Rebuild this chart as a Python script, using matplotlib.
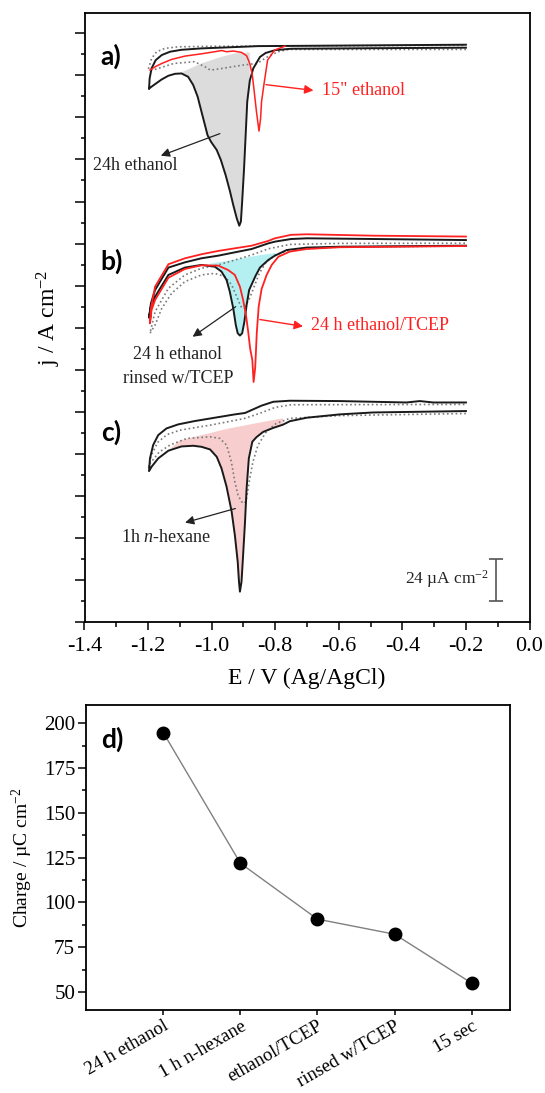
import numpy as np
import matplotlib.pyplot as plt
from matplotlib.ticker import MultipleLocator, NullFormatter

plt.rcParams['font.family'] = ['Liberation Serif', 'DejaVu Serif']
plt.rcParams['mathtext.fontset'] = 'custom'
plt.rcParams['mathtext.rm'] = 'Liberation Serif'
plt.rcParams['mathtext.it'] = 'Liberation Serif:italic'
plt.rcParams['axes.unicode_minus'] = False

RED = '#ff2020'
DOT = '#7a7a7a'

# ---- CV traces, E in V, j in uA cm-2 (stacked with offsets) ----
# panel a : 24h ethanol (black), 15" ethanol (red), bare (dotted)
a_cat_E = [-0.20, -0.50, -0.75, -0.80, -0.83, -0.848, -0.869, -0.880, -0.888, -0.893, -0.898, -0.904,
           -0.908, -0.913, -0.921, -0.932, -0.942, -0.956, -0.971, -0.984, -1.002, -1.013, -1.021,
           -1.032, -1.044, -1.058, -1.074, -1.095, -1.115, -1.136, -1.157, -1.178, -1.194, -1.197]
a_cat_j = [327.8, 327.5, 327.2, 326.4, 324.8, 322.5, 316.0, 309.0, 297.0, 277.9, 258.9, 239.9,
           228.5, 226.2, 230.4, 238.0, 245.6, 255.1, 263.7, 269.4, 274.1, 277.9, 283.6,
           291.3, 299.8, 306.5, 311.2, 313.1, 312.9, 311.8, 309.7, 307.0, 304.9, 304.2]
a_ano_E = [-1.197, -1.195, -1.189, -1.176, -1.157, -1.131, -1.095, -1.032, -0.948, -0.853, -0.60, -0.20]
a_ano_j = [304.2, 310.3, 316.0, 320.7, 323.6, 325.5, 326.6, 327.4, 328.0, 328.7, 329.0, 329.5]
a_base_E = [-1.095, -1.032, -0.969, -0.927, -0.880]
a_base_j = [313.7, 318.8, 322.6, 324.5, 325.1]
a_red_E = [-1.194, -1.178, -1.157, -1.126, -1.084, -1.032, -0.990, -0.969, -0.953, -0.932, -0.906, -0.890,
           -0.880, -0.872, -0.866, -0.859, -0.851, -0.846, -0.843, -0.835, -0.824, -0.802, -0.769]
a_red_j = [315.0, 316.9, 318.8, 321.1, 323.0, 324.3, 325.5, 326.2, 325.5, 325.9, 325.1, 323.2,
           318.8, 312.2, 302.7, 291.3, 280.2, 287.4, 297.0, 307.4, 320.7, 326.4, 328.7]
a_dot_E = [-0.20, -0.758, -0.791, -0.824, -0.857, -0.901, -0.966, -1.004, -1.021, -1.054, -1.119, -1.185,
           -1.199, -1.189, -1.173, -1.147, -1.105, -1.00, -0.60, -0.20]
a_dot_j = [326.8, 326.8, 325.5, 322.6, 318.8, 317.9, 316.0, 315.0, 316.9, 319.8, 318.8, 315.0,
           315.5, 321.7, 325.5, 327.4, 328.3, 328.6, 328.9, 329.2]

# panel b : 24 h ethanol/TCEP (red), 24 h ethanol rinsed w/TCEP (black), bare (dotted)
b_red_ano_E = [-1.194, -1.191, -1.178, -1.136, -1.084, -1.032, -0.979, -0.927, -0.874, -0.822, -0.801,
               -0.75, -0.70, -0.49, -0.20]
b_red_ano_j = [170.5, 179.0, 191.4, 204.2, 207.6, 209.9, 211.8, 213.3, 214.8, 217.5, 219.0,
               221.0, 221.3, 220.5, 220.0]
b_red_cat_E = [-0.20, -0.597, -0.701, -0.754, -0.790, -0.811, -0.827, -0.843, -0.852, -0.858, -0.863,
               -0.868, -0.872, -0.879, -0.885, -0.892, -0.901, -0.911, -0.927, -0.948, -0.979, -1.032,
               -1.084, -1.136, -1.178, -1.189, -1.194]
b_red_cat_j = [214.6, 213.9, 212.9, 211.4, 208.5, 203.8, 198.1, 190.0, 180.0, 165.0, 145.0,
               137.0, 149.6, 156.2, 165.7, 175.2, 183.8, 191.4, 198.1, 200.9, 203.4, 203.6,
               201.5, 196.5, 183.8, 178.1, 170.5]
b_blk_ano_E = [-1.197, -1.191, -1.178, -1.136, -1.084, -1.032, -0.979, -0.927, -0.874, -0.822, -0.801,
               -0.75, -0.70, -0.49, -0.20]
b_blk_ano_j = [173.7, 181.9, 189.5, 202.3, 205.3, 207.6, 209.1, 211.0, 212.9, 216.1, 217.1,
               218.6, 219.0, 218.6, 218.0]
b_blk_cat_E = [-0.20, -0.597, -0.701, -0.764, -0.801, -0.822, -0.848, -0.862, -0.882, -0.890, -0.897,
               -0.904, -0.911, -0.918, -0.924, -0.932, -0.943, -0.953, -0.969, -0.990, -1.032, -1.084,
               -1.136, -1.178, -1.191, -1.197]
b_blk_cat_j = [214.8, 214.2, 213.7, 212.3, 209.1, 206.6, 202.3, 197.5, 189.5, 180.9, 171.4,
               164.8, 163.5, 164.8, 169.5, 179.0, 188.6, 195.2, 200.0, 202.8, 203.8, 202.3,
               198.1, 185.7, 180.0, 173.7]
b_base_E = [-1.01, -0.93, -0.85, -0.80]
b_base_j = [204.3, 206.8, 209.3, 210.6]
b_dot_E = [-0.20, -0.60, -0.75, -0.80, -0.83, -0.85, -0.865, -0.88, -0.895, -0.908, -0.921, -0.937,
           -0.958, -0.990, -1.032, -1.084, -1.126, -1.157, -1.178, -1.194,
           -1.178, -1.136, -1.084, -1.032, -0.979, -0.927, -0.874, -0.822, -0.754, -0.60, -0.20]
b_dot_j = [214.6, 214.0, 212.5, 209.5, 205.0, 199.0, 192.0, 185.0, 180.0, 180.0, 185.7, 192.4,
           197.1, 199.0, 198.1, 194.3, 187.6, 179.0, 169.5, 164.8,
           177.1, 190.5, 198.1, 201.9, 203.8, 206.6, 209.5, 213.0, 215.5, 216.1, 216.2]

# panel c : 1h n-hexane (black), bare (dotted)
c_ano_E = [-1.197, -1.194, -1.184, -1.168, -1.142, -1.105, -1.053, -0.990, -0.927, -0.895, -0.874,
           -0.843, -0.806, -0.754, -0.597, -0.387, -0.345, -0.303, -0.20]
c_ano_j = [86.1, 93.4, 101.0, 106.7, 110.5, 112.8, 114.7, 116.6, 118.5, 119.3, 121.0,
           123.5, 125.7, 126.3, 126.1, 125.3, 126.1, 125.3, 125.3]
c_cat_E = [-0.20, -0.492, -0.597, -0.701, -0.754, -0.776, -0.806, -0.838, -0.859, -0.872, -0.883, -0.890,
           -0.895, -0.901, -0.906, -0.911, -0.914, -0.918, -0.927, -0.937, -0.953, -0.969, -0.984,
           -1.005, -1.032, -1.058, -1.095, -1.136, -1.168, -1.189, -1.197]
c_cat_j = [120.4, 119.6, 118.5, 116.6, 114.6, 112.6, 110.8, 108.5, 105.5, 102.9, 93.4, 76.2,
           57.2, 38.2, 23.0, 17.3, 23.0, 34.4, 49.6, 62.9, 77.2, 87.7, 94.3,
           98.5, 100.0, 100.6, 100.2, 97.8, 93.4, 88.6, 86.1]
c_base_E = [-1.13, -1.10, -0.95, -0.80, -0.776]
c_base_j = [99.0, 103.6, 110.3, 115.5, 116.2]
c_dot_E = [-0.20, -0.60, -0.755, -0.797, -0.828, -0.854, -0.870, -0.880, -0.891, -0.896, -0.906, -0.917,
           -0.927, -0.938, -0.953, -0.974, -1.005, -1.078, -1.131, -1.165, -1.194, -1.199,
           -1.19, -1.17, -1.14, -1.10, -1.00, -0.90, -0.85, -0.80, -0.75, -0.20]
c_dot_j = [119.0, 117.8, 116.2, 113.3, 108.6, 101.0, 91.5, 82.0, 69.6, 67.7, 68.6, 72.4,
           80.0, 91.5, 101.0, 104.8, 105.7, 104.8, 101.0, 97.0, 90.5, 87.5,
           95.0, 102.5, 107.0, 109.5, 112.5, 116.0, 119.0, 122.5, 124.0, 124.2]

# ---- panel d : integrated charge ----
samples = ['24 h ethanol', '1 h n-hexane', 'ethanol/TCEP', 'rinsed w/TCEP', '15 sec']
charge = [194.8, 121.9, 90.7, 82.3, 55.0]

W, H = 545, 1093
fig = plt.figure(figsize=(W / 100, H / 100), dpi=100)
ax = fig.add_axes([84.5 / W, 1 - 622 / H, 445 / W, 609 / H])
axd = fig.add_axes([86.2 / W, 1 - 1010 / H, 424 / W, 305 / H])


def region(E, j, lo, hi):
    E = np.asarray(E)
    j = np.asarray(j)
    m = (E >= lo) & (E <= hi)
    return E[m], j[m]


def shade(cat_E, cat_j, base_E, base_j, color):
    e1, j1 = region(cat_E, cat_j, min(base_E), max(base_E))
    px = np.concatenate([e1, base_E])
    py = np.concatenate([j1, base_j])
    ax.fill(px, py, color=color, lw=0, zorder=1)


shade(a_cat_E, a_cat_j, a_base_E, a_base_j, '#dcdcdc')
shade(b_blk_cat_E, b_blk_cat_j, b_base_E, b_base_j, '#b4f0f2')
shade(c_cat_E, c_cat_j, c_base_E, c_base_j, '#f8cdcd')

dots = dict(color=DOT, lw=1.2, ls=(0, (1, 1.6)), zorder=2)
ax.plot(a_dot_E, a_dot_j, **dots)
ax.plot(b_dot_E, b_dot_j, **dots)
ax.plot(c_dot_E, c_dot_j, **dots)

blk = dict(color='#1a1a1a', lw=1.4, zorder=3)
ax.plot(a_cat_E + a_ano_E, a_cat_j + a_ano_j, **blk)
ax.plot(b_blk_cat_E + b_blk_ano_E, b_blk_cat_j + b_blk_ano_j, **blk)
ax.plot(c_cat_E + c_ano_E, c_cat_j + c_ano_j, **blk)

ax.plot(a_red_E, a_red_j, color=RED, lw=1.1, zorder=4)
ax.plot(b_red_cat_E + b_red_ano_E, b_red_cat_j + b_red_ano_j, color=RED, lw=1.3, zorder=4)

ax.set_xlim(-1.4, 0.0)
ax.set_ylim(0, 347.6)
ax.xaxis.set_major_locator(MultipleLocator(0.2))
ax.xaxis.set_minor_locator(MultipleLocator(0.1))
ax.yaxis.set_major_locator(MultipleLocator(24))
ax.yaxis.set_minor_locator(MultipleLocator(12))
ax.yaxis.set_major_formatter(NullFormatter())
ax.xaxis.set_major_formatter(plt.FuncFormatter(lambda v, p: '%.1f' % v))
ax.tick_params(axis='x', which='major', direction='out', length=6, width=1.1, labelsize=16, pad=5)
ax.tick_params(axis='x', which='minor', direction='out', length=3.6, width=1.1)
ax.tick_params(axis='y', which='major', direction='out', length=7, width=1.1)
ax.tick_params(axis='y', which='minor', direction='out', length=3.2, width=1.1)
for s in ax.spines.values():
    s.set_linewidth(1.3)

ax.set_xlabel('E / V (Ag/AgCl)', fontsize=17)
ax.xaxis.set_label_coords(0.5, -0.076)
ax.set_ylabel('j / A cm$^{-2}$', fontsize=17)
ax.yaxis.set_label_coords(-0.049, 0.5)

lab = dict(family=['Lato', 'DejaVu Sans'], fontweight='bold', fontsize=19, va='center', ha='left')
ax.text(-1.349, 322.6, 'a)', **lab)
ax.text(-1.349, 206.1, 'b)', **lab)
ax.text(-1.349, 108.1, 'c)', **lab)

arr_k = dict(arrowstyle='-|>', color='#222222', lw=0.9, mutation_scale=13)
arr_r = dict(arrowstyle='-|>', color=RED, lw=1.0, mutation_scale=13)
ax.annotate('', xy=(-0.671, 303.2), xytext=(-0.838, 306.9), arrowprops=arr_r)
ax.text(-0.652, 303.2, '15" ethanol', color=RED, fontsize=13, va='center', ha='left')
ax.annotate('', xy=(-1.168, 265.6), xytext=(-0.966, 279.3), arrowprops=arr_k)
ax.text(-1.240, 260.8, '24h ethanol', color='#222222', fontsize=13, va='center', ha='center')

ax.annotate('', xy=(-0.704, 168.5), xytext=(-0.857, 172.9), arrowprops=arr_r)
ax.text(-0.688, 169.5, '24 h ethanol/TCEP', color=RED, fontsize=13, va='center', ha='left')
ax.annotate('', xy=(-1.067, 161.9), xytext=(-0.917, 180.9), arrowprops=arr_k)
ax.text(-1.106, 145.8, '24 h ethanol\nrinsed w/TCEP', color='#222222', fontsize=13,
        va='center', ha='center', linespacing=1.5)

ax.annotate('', xy=(-1.092, 56.3), xytext=(-0.917, 65.2), arrowprops=arr_k)
ax.text(-1.144, 48.3, '1h $n$-hexane', color='#222222', fontsize=13, va='center', ha='center')

ax.errorbar([-0.105], [24.15], yerr=12.05, color='#555555', lw=1.2, capsize=5, capthick=1.2)
ax.text(-0.127, 24.5, '24 µA cm$^{-2}$', fontsize=12.5, va='center', ha='right', color='#222222')

# ---- panel d ----
xi = np.arange(len(samples))
axd.plot(xi, charge, color='#808080', lw=1.0, marker='o', ms=9, mfc='black', mec='black', zorder=3)
axd.set_xlim(-1, 4.5)
axd.set_ylim(40, 210.2)
axd.set_xticks(xi)
axd.set_xticklabels(samples, rotation=30, ha='right', rotation_mode='anchor', fontsize=13.5)
axd.yaxis.set_major_locator(MultipleLocator(25))
axd.yaxis.set_minor_locator(MultipleLocator(12.5))
axd.tick_params(axis='y', which='major', direction='out', length=6, width=1.1, labelsize=15, pad=2)
axd.tick_params(axis='y', which='minor', direction='out', length=3.2, width=1.1)
axd.tick_params(axis='x', which='major', direction='out', length=3.5, width=1.1, pad=2)
for s in axd.spines.values():
    s.set_linewidth(1.3)
axd.set_ylabel('Charge / µC cm$^{-2}$', fontsize=14)
axd.yaxis.set_label_coords(-0.121, 0.5)
axd.text(-0.81, 191.2, 'd)', **lab)

fig.savefig('out.png', dpi=100)
